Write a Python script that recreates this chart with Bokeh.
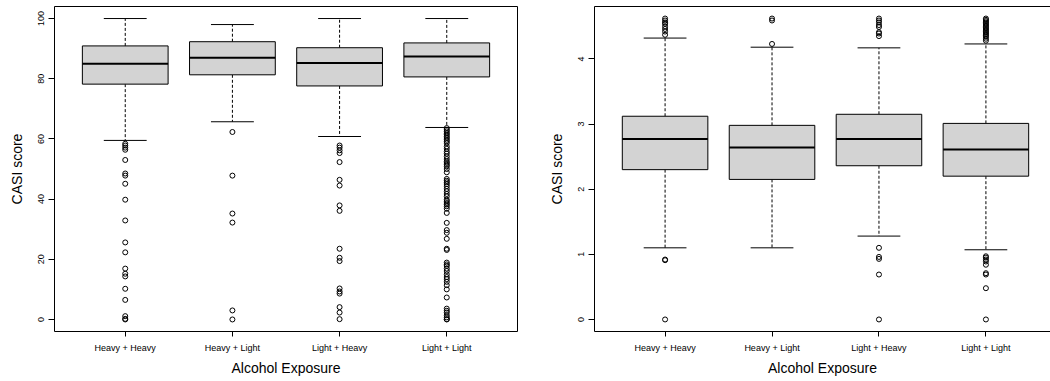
from bokeh.plotting import figure
from bokeh.models import FixedTicker, LinearAxis, Range1d
from bokeh.layouts import row
from bokeh.embed import file_html
from bokeh.resources import INLINE

groups = ["Heavy + Heavy", "Heavy + Light", "Light + Heavy", "Light + Light"]
positions = [1, 2, 3, 4]

# Left panel: raw CASI score
raw_low = [59.5, 65.7, 60.8, 63.8]
raw_q1 = [78.2, 81.3, 77.6, 80.6]
raw_med = [85.0, 87.0, 85.2, 87.4]
raw_q3 = [90.9, 92.3, 90.3, 91.9]
raw_high = [100.0, 98.0, 100.0, 100.0]
raw_out_hh = [58.4, 57.8, 57.1, 56.4, 53.0, 48.5, 47.8, 45.1, 39.8, 32.9, 25.6, 22.3,
              16.9, 15.2, 14.3, 10.2, 6.5, 1.1, 0.2, 0.0]
raw_out_hl = [62.3, 47.8, 35.2, 32.2, 3.0, 0.0]
raw_out_lh = [57.8, 57.1, 56.2, 55.3, 52.3, 46.4, 44.5, 37.9, 36.1, 23.5, 20.5, 19.4,
              10.3, 9.3, 8.6, 4.1, 2.3, 0.1]
raw_out_ll = [63.6, 63.0, 62.5, 61.9, 61.4, 60.8, 60.3, 59.7, 59.2, 58.6, 57.5, 56.7,
              55.8, 55.1, 54.2, 53.3, 52.5, 52.0, 51.4, 50.9, 50.0, 48.9, 46.7, 46.1,
              45.6, 45.0, 44.3, 43.4, 42.6, 41.7, 40.9, 39.8, 39.3, 38.7, 38.2, 37.6,
              36.8, 35.4, 32.1, 29.7, 28.8, 26.8, 23.5, 23.1, 18.9, 18.3, 17.8, 16.9,
              16.1, 15.0, 14.1, 13.4, 12.5, 11.4, 10.0, 7.3, 3.6, 2.9, 2.3, 1.4, 0.7,
              0.1, 0.0]
raw_ticks = [0, 20, 40, 60, 80, 100]

# Right panel: transformed CASI score
tr_low = [1.10, 1.10, 1.28, 1.07]
tr_q1 = [2.30, 2.15, 2.36, 2.20]
tr_med = [2.77, 2.64, 2.77, 2.61]
tr_q3 = [3.12, 2.98, 3.15, 3.01]
tr_high = [4.32, 4.18, 4.17, 4.23]
tr_out_hh = [4.62, 4.59, 4.56, 4.54, 4.50, 4.46, 4.42, 4.37, 0.92, 0.91, 0.0]
tr_out_hl = [4.62, 4.59, 4.23]
tr_out_lh = [4.62, 4.59, 4.56, 4.52, 4.49, 4.41, 4.39, 4.35, 1.10, 0.96, 0.93, 0.69, 0.0]
tr_out_ll = [4.62, 4.60, 4.58, 4.56, 4.54, 4.52, 4.50, 4.48, 4.46, 4.44, 4.42, 4.40,
             4.38, 4.36, 4.34, 4.31, 4.28, 0.97, 0.95, 0.92, 0.89, 0.84, 0.71, 0.69,
             0.48, 0.0]
tr_ticks = [0, 1, 2, 3, 4]

FONT = "Liberation Sans"


def panel(low, q1, med, q3, high, outliers, ticks, y0, y1, x1, width, mb_left, mb_right, full_box):
    p = figure(width=width, height=378, output_backend="svg", toolbar_location=None,
               x_range=Range1d(0.34, x1), y_range=Range1d(y0, y1),
               min_border_left=mb_left, min_border_right=mb_right,
               min_border_top=6, min_border_bottom=46)
    p.grid.visible = False
    p.background_fill_color = "white"
    p.border_fill_color = "white"
    if full_box:
        p.outline_line_color = "black"
        p.outline_line_alpha = 1.0
        p.outline_line_width = 1
    else:
        p.outline_line_color = None

    # whiskers
    p.segment(x0=positions, y0=q3, x1=positions, y1=high, line_color="black",
              line_dash="3 2", line_width=1)
    p.segment(x0=positions, y0=q1, x1=positions, y1=low, line_color="black",
              line_dash="3 2", line_width=1)
    # caps
    p.segment(x0=[x - 0.2 for x in positions], y0=high, x1=[x + 0.2 for x in positions],
              y1=high, line_color="black", line_width=1)
    p.segment(x0=[x - 0.2 for x in positions], y0=low, x1=[x + 0.2 for x in positions],
              y1=low, line_color="black", line_width=1)
    # boxes
    p.vbar(x=positions, bottom=q1, top=q3, width=0.8, fill_color="#d3d3d3",
           line_color="black", line_width=1)
    # medians
    p.segment(x0=[x - 0.4 for x in positions], y0=med, x1=[x + 0.4 for x in positions],
              y1=med, line_color="black", line_width=2)
    # outliers
    ox, oy = [], []
    for pos, vals in zip(positions, outliers):
        ox += [pos] * len(vals)
        oy += vals
    p.scatter(ox, oy, marker="circle", size=5, fill_color=None, line_color="black",
              line_width=1)

    xa = p.below[0]
    xa.ticker = FixedTicker(ticks=positions)
    xa.major_label_overrides = {pos: g for pos, g in zip(positions, groups)}
    xa.axis_label = "Alcohol Exposure"
    xa.major_tick_out = 5
    xa.major_tick_in = 0
    xa.minor_tick_line_color = None
    xa.major_label_text_font = FONT
    xa.major_label_text_font_size = "9px"
    xa.major_label_text_color = "black"
    xa.major_label_standoff = 6
    xa.axis_label_text_font = FONT
    xa.axis_label_text_font_size = "14px"
    xa.axis_label_text_font_style = "normal"
    xa.axis_label_text_color = "black"
    xa.axis_label_standoff = 4

    ya = p.left[0]
    ya.ticker = FixedTicker(ticks=ticks)
    ya.axis_label = "CASI score"
    ya.major_label_orientation = "vertical"
    ya.major_tick_out = 6
    ya.major_tick_in = 0
    ya.minor_tick_line_color = None
    ya.major_label_text_font = FONT
    ya.major_label_text_font_size = "9px"
    ya.major_label_text_color = "black"
    ya.major_label_standoff = 4
    ya.axis_label_text_font = FONT
    ya.axis_label_text_font_size = "14px"
    ya.axis_label_text_font_style = "normal"
    ya.axis_label_text_color = "black"
    ya.axis_label_standoff = 11
    if full_box:
        xa.axis_line_color = None
        ya.axis_line_color = None
    else:
        top = LinearAxis(ticker=FixedTicker(ticks=[]), major_label_text_font_size="0px",
                         major_label_standoff=0, major_tick_out=0, major_tick_in=0,
                         major_tick_line_color=None, minor_tick_line_color=None,
                         axis_line_color="black")
        p.add_layout(top, "above")
    return p


p1 = panel(raw_low, raw_q1, raw_med, raw_q3, raw_high,
           [raw_out_hh, raw_out_hl, raw_out_lh, raw_out_ll], raw_ticks,
           -4.0, 104.0, 4.66, 545, 54, 28, True)
p2 = panel(tr_low, tr_q1, tr_med, tr_q3, tr_high,
           [tr_out_hh, tr_out_hl, tr_out_lh, tr_out_ll], tr_ticks,
           -0.1848, 4.8048, 4.604, 505, 47, 0, False)

layout = row(p1, p2)
open("out.html", "w").write(file_html(layout, INLINE))
